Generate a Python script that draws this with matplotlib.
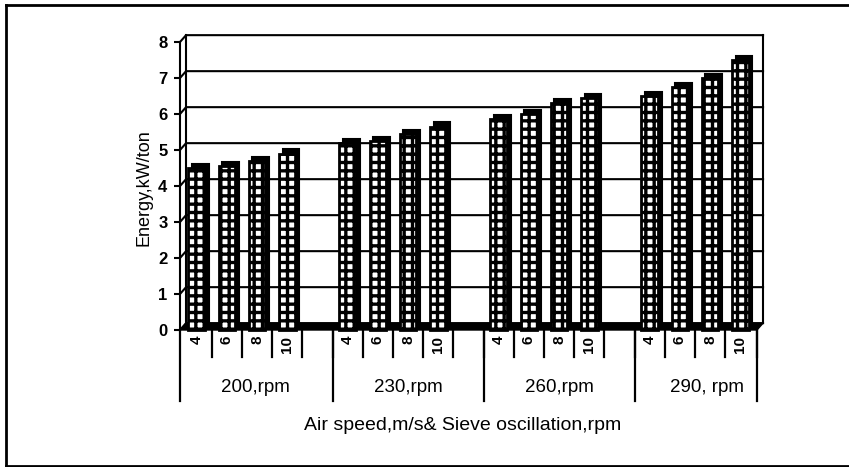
import matplotlib.pyplot as plt
import numpy as np
from matplotlib.lines import Line2D

plt.rcParams['font.family'] = ['Liberation Sans', 'DejaVu Sans']
plt.rcParams['hatch.linewidth'] = 2.4

groups = ['200,rpm', '230,rpm', '260,rpm', '290, rpm']
speeds = ['4', '6', '8', '10']
energy_200 = [4.5, 4.55, 4.7, 4.9]
energy_230 = [5.2, 5.25, 5.45, 5.65]
energy_260 = [5.85, 6.0, 6.3, 6.45]
energy_290 = [6.5, 6.75, 7.0, 7.5]
energy = [energy_200, energy_230, energy_260, energy_290]

fig = plt.figure(figsize=(8.49, 4.67), dpi=100)
ax = fig.add_axes([180 / 849, 137 / 467, 577 / 849, 288 / 467])

x0, x1 = -0.55, 18.55
ax.set_xlim(x0, x1)
ax.set_ylim(0, 8)
dx, dy = 0.2, 0.19  # depth of the 3d box

# back wall, grid lines and left wall
for v in range(0, 9):
    ax.plot([x0, x0 + dx, x1 + dx], [v, v + dy, v + dy], color='black', lw=1.5, clip_on=False, zorder=1)
ax.plot([x0 + dx, x0 + dx], [dy, 8 + dy], color='black', lw=1.5, clip_on=False, zorder=1)
ax.plot([x1 + dx, x1 + dx], [dy, 8 + dy], color='black', lw=1.5, clip_on=False, zorder=1)

# floor
ax.fill([x0, x1, x1 + dx, x0 + dx], [0, 0, dy, dy], color='black', clip_on=False, zorder=2)

# bars
pos = []
labels = []
for g, vals in enumerate(energy):
    for i, v in enumerate(vals):
        pos.append(g * 5 + i)
        labels.append(speeds[i])
    if g < len(energy) - 1:
        labels.append('')
        pos.append(g * 5 + 4)

for g, vals in enumerate(energy):
    xs = np.arange(4) + g * 5
    ax.bar(xs + dx * 0.6, vals, width=0.55, bottom=dy * 0.6, color='black',
           edgecolor='black', lw=1.5, zorder=3, clip_on=False)
    ax.bar(xs, vals, width=0.55, color='white', edgecolor='black', hatch='++',
           lw=2, zorder=4, clip_on=False)

for s in ['top', 'right', 'bottom']:
    ax.spines[s].set_visible(False)
ax.spines['left'].set_linewidth(1.5)

ax.set_yticks(range(0, 9))
ax.set_yticklabels([str(v) for v in range(0, 9)], fontsize=12, fontweight='bold')
ax.tick_params(axis='y', length=4, width=1.5, pad=5)

ax.set_xticks(pos)
ax.set_xticklabels(labels, rotation=90, fontsize=11, fontweight='bold')
ax.tick_params(axis='x', length=0, pad=4)

# category separators
tr = ax.get_xaxis_transform()
for k in range(19):
    xb = k + 0.5
    if k == 18:
        xb = x1
    ax.plot([xb, xb], [0, -0.095], color='black', lw=1.6, transform=tr, clip_on=False)
for xb in [x0, 4.5, 9.5, 14.5, x1]:
    ax.plot([xb, xb], [0, -0.245], color='black', lw=1.6, transform=tr, clip_on=False)

centers = [1.95, 7.0, 12.0, 16.9]
for c, name in zip(centers, groups):
    ax.text(c, -0.2, name, transform=tr, ha='center', va='center', fontsize=13.5)

ax.text(0.49, -0.33, 'Air speed,m/s& Sieve oscillation,rpm', transform=ax.transAxes,
        ha='center', va='center', fontsize=14)
ax.text(-0.062, 0.495, 'Energy,kW/ton', transform=ax.transAxes, rotation=90,
        ha='center', va='center', fontsize=13)

# outer frame
fig.add_artist(Line2D([6 / 849, 1], [1 - 5 / 467, 1 - 5 / 467], color='black', lw=2))
fig.add_artist(Line2D([6 / 849, 6 / 849], [1 - 5 / 467, 1 / 467], color='black', lw=2))
fig.add_artist(Line2D([6 / 849, 1], [1 / 467, 1 / 467], color='black', lw=2))

plt.savefig('out.png', dpi=100)
